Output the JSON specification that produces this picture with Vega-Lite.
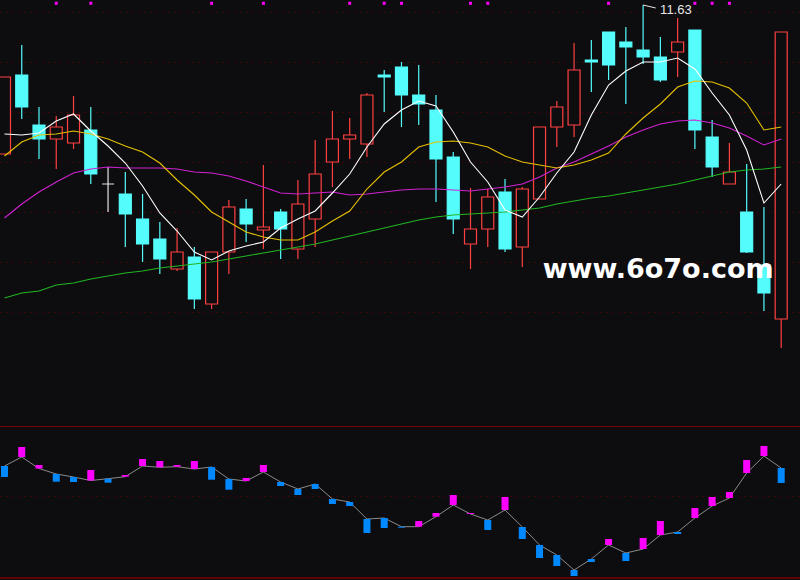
{
  "$schema": "https://vega.github.io/schema/vega-lite/v6.json",
  "background": "#0d0d10",
  "padding": 0,
  "spacing": 0,
  "config": {
    "view": {"stroke": null},
    "axis": {"labels": false, "ticks": false, "domain": false, "grid": false, "title": null, "minExtent": 0, "maxExtent": 0}
  },
  "datasets": {
    "k": [
      {"i":0,"open":10.14,"close":10.91,"high":10.91,"low":10.14,"ma5":10.34,"ma10":10.12,"ma20":9.50,"ma60":8.70,"ind":11.4,"ind2":10.3},
      {"i":1,"open":10.93,"close":10.61,"high":11.23,"low":10.49,"ma5":10.33,"ma10":10.26,"ma20":9.64,"ma60":8.75,"ind":12.3,"ind2":13.3},
      {"i":2,"open":10.43,"close":10.29,"high":10.61,"low":10.09,"ma5":10.35,"ma10":10.33,"ma20":9.76,"ma60":8.77,"ind":11.15,"ind2":11.5},
      {"i":3,"open":10.29,"close":10.41,"high":10.52,"low":9.99,"ma5":10.47,"ma10":10.34,"ma20":9.86,"ma60":8.83,"ind":10.6,"ind2":9.83},
      {"i":4,"open":10.25,"close":10.53,"high":10.72,"low":10.19,"ma5":10.54,"ma10":10.37,"ma20":9.95,"ma60":8.85,"ind":10.3,"ind2":9.8},
      {"i":5,"open":10.38,"close":9.94,"high":10.61,"low":9.84,"ma5":10.37,"ma10":10.34,"ma20":9.99,"ma60":8.89,"ind":9.95,"ind2":11.0},
      {"i":6,"open":9.84,"close":9.84,"high":10.01,"low":9.56,"ma5":10.22,"ma10":10.29,"ma20":10.01,"ma60":8.92,"ind":10.13,"ind2":9.73},
      {"i":7,"open":9.74,"close":9.54,"high":9.96,"low":9.21,"ma5":10.05,"ma10":10.22,"ma20":10.00,"ma60":8.95,"ind":10.33,"ind2":10.5},
      {"i":8,"open":9.49,"close":9.24,"high":9.74,"low":9.06,"ma5":9.82,"ma10":10.16,"ma20":10.00,"ma60":8.97,"ind":11.4,"ind2":12.1},
      {"i":9,"open":9.29,"close":9.09,"high":9.46,"low":8.94,"ma5":9.55,"ma10":10.05,"ma20":10.00,"ma60":9.00,"ind":11.27,"ind2":11.9},
      {"i":10,"open":8.99,"close":9.16,"high":9.40,"low":8.97,"ma5":9.37,"ma10":9.88,"ma20":9.99,"ma60":9.02,"ind":11.33,"ind2":11.5},
      {"i":11,"open":9.11,"close":8.69,"high":9.21,"low":8.59,"ma5":9.16,"ma10":9.73,"ma20":9.96,"ma60":9.04,"ind":11.1,"ind2":11.9},
      {"i":12,"open":8.64,"close":9.16,"high":9.16,"low":8.59,"ma5":9.08,"ma10":9.56,"ma20":9.95,"ma60":9.06,"ind":11.3,"ind2":10.03},
      {"i":13,"open":9.16,"close":9.61,"high":9.68,"low":8.94,"ma5":9.17,"ma10":9.46,"ma20":9.92,"ma60":9.09,"ind":10.1,"ind2":9.03},
      {"i":14,"open":9.59,"close":9.44,"high":9.69,"low":9.26,"ma5":9.22,"ma10":9.36,"ma20":9.87,"ma60":9.12,"ind":9.9,"ind2":10.2},
      {"i":15,"open":9.38,"close":9.41,"high":10.03,"low":9.19,"ma5":9.26,"ma10":9.31,"ma20":9.81,"ma60":9.15,"ind":10.8,"ind2":11.5},
      {"i":16,"open":9.56,"close":9.39,"high":9.59,"low":9.09,"ma5":9.40,"ma10":9.28,"ma20":9.75,"ma60":9.18,"ind":9.8,"ind2":9.4},
      {"i":17,"open":9.19,"close":9.64,"high":9.88,"low":9.09,"ma5":9.49,"ma10":9.28,"ma20":9.74,"ma60":9.21,"ind":9.1,"ind2":8.5},
      {"i":18,"open":9.49,"close":9.94,"high":10.28,"low":9.21,"ma5":9.57,"ma10":9.36,"ma20":9.75,"ma60":9.24,"ind":9.6,"ind2":9.1},
      {"i":19,"open":10.06,"close":10.29,"high":10.57,"low":9.81,"ma5":9.75,"ma10":9.47,"ma20":9.76,"ma60":9.28,"ind":8.1,"ind2":7.6},
      {"i":20,"open":10.29,"close":10.33,"high":10.50,"low":10.09,"ma5":9.94,"ma10":9.57,"ma20":9.73,"ma60":9.32,"ind":7.8,"ind2":7.4},
      {"i":21,"open":10.24,"close":10.73,"high":10.75,"low":10.11,"ma5":10.21,"ma10":9.79,"ma20":9.74,"ma60":9.36,"ind":6.1,"ind2":4.7},
      {"i":22,"open":10.93,"close":10.91,"high":10.98,"low":10.56,"ma5":10.44,"ma10":9.96,"ma20":9.76,"ma60":9.40,"ind":6.2,"ind2":5.2},
      {"i":23,"open":11.01,"close":10.73,"high":11.06,"low":10.41,"ma5":10.58,"ma10":10.06,"ma20":9.78,"ma60":9.44,"ind":5.33,"ind2":5.23},
      {"i":24,"open":10.73,"close":10.64,"high":11.03,"low":10.43,"ma5":10.67,"ma10":10.21,"ma20":9.79,"ma60":9.48,"ind":5.33,"ind2":5.9},
      {"i":25,"open":10.58,"close":10.09,"high":10.73,"low":9.66,"ma5":10.62,"ma10":10.26,"ma20":9.79,"ma60":9.51,"ind":6.33,"ind2":6.7},
      {"i":26,"open":10.11,"close":9.49,"high":10.16,"low":9.34,"ma5":10.36,"ma10":10.27,"ma20":9.78,"ma60":9.53,"ind":7.5,"ind2":8.5},
      {"i":27,"open":9.24,"close":9.39,"high":9.80,"low":8.99,"ma5":10.06,"ma10":10.25,"ma20":9.77,"ma60":9.54,"ind":6.6,"ind2":6.7},
      {"i":28,"open":9.39,"close":9.71,"high":9.79,"low":9.21,"ma5":9.86,"ma10":10.21,"ma20":9.79,"ma60":9.55,"ind":6.0,"ind2":5.0},
      {"i":29,"open":9.76,"close":9.19,"high":9.89,"low":9.16,"ma5":9.58,"ma10":10.12,"ma20":9.81,"ma60":9.56,"ind":7.0,"ind2":8.3},
      {"i":30,"open":9.21,"close":9.79,"high":9.81,"low":9.01,"ma5":9.51,"ma10":10.06,"ma20":9.84,"ma60":9.58,"ind":5.3,"ind2":4.1},
      {"i":31,"open":9.69,"close":10.41,"high":10.41,"low":9.69,"ma5":9.71,"ma10":10.03,"ma20":9.91,"ma60":9.60,"ind":3.5,"ind2":2.2},
      {"i":32,"open":10.41,"close":10.61,"high":10.67,"low":10.21,"ma5":9.95,"ma10":10.00,"ma20":10.00,"ma60":9.64,"ind":2.5,"ind2":1.4},
      {"i":33,"open":10.43,"close":10.98,"high":11.25,"low":10.31,"ma5":10.16,"ma10":10.03,"ma20":10.06,"ma60":9.67,"ind":1.0,"ind2":0.4},
      {"i":34,"open":11.08,"close":11.06,"high":11.28,"low":10.76,"ma5":10.53,"ma10":10.08,"ma20":10.14,"ma60":9.70,"ind":2.1,"ind2":1.8},
      {"i":35,"open":11.36,"close":11.03,"high":11.36,"low":10.88,"ma5":10.83,"ma10":10.15,"ma20":10.22,"ma60":9.72,"ind":3.5,"ind2":4.1},
      {"i":36,"open":11.26,"close":11.21,"high":11.41,"low":10.64,"ma5":10.97,"ma10":10.34,"ma20":10.31,"ma60":9.75,"ind":2.7,"ind2":1.9},
      {"i":37,"open":11.18,"close":11.11,"high":11.63,"low":11.04,"ma5":11.06,"ma10":10.50,"ma20":10.38,"ma60":9.78,"ind":3.1,"ind2":4.2},
      {"i":38,"open":11.11,"close":10.88,"high":11.31,"low":10.86,"ma5":11.06,"ma10":10.64,"ma20":10.44,"ma60":9.81,"ind":4.5,"ind2":5.9},
      {"i":39,"open":11.16,"close":11.26,"high":11.50,"low":10.91,"ma5":11.10,"ma10":10.81,"ma20":10.47,"ma60":9.84,"ind":4.8,"ind2":4.6},
      {"i":40,"open":11.38,"close":10.38,"high":11.38,"low":10.19,"ma5":10.99,"ma10":10.87,"ma20":10.48,"ma60":9.88,"ind":6.2,"ind2":7.2},
      {"i":41,"open":10.31,"close":10.01,"high":10.48,"low":9.91,"ma5":10.75,"ma10":10.86,"ma20":10.45,"ma60":9.92,"ind":7.4,"ind2":8.3},
      {"i":42,"open":9.84,"close":9.96,"high":10.25,"low":9.84,"ma5":10.53,"ma10":10.80,"ma20":10.40,"ma60":9.96,"ind":8.2,"ind2":8.8},
      {"i":43,"open":9.56,"close":9.16,"high":10.04,"low":9.15,"ma5":10.18,"ma10":10.65,"ma20":10.32,"ma60":9.98,"ind":10.7,"ind2":12.0},
      {"i":44,"open":9.03,"close":8.75,"high":9.61,"low":8.57,"ma5":9.65,"ma10":10.38,"ma20":10.23,"ma60":9.99,"ind":12.4,"ind2":13.4},
      {"i":45,"open":8.49,"close":11.36,"high":11.36,"low":8.20,"ma5":9.84,"ma10":10.41,"ma20":10.29,"ma60":10.01,"ind":11.2,"ind2":9.7}
    ],
    "sig": [{"i":3},{"i":5},{"i":12},{"i":15},{"i":20},{"i":22},{"i":23},{"i":27},{"i":28},{"i":35},{"i":40},{"i":41},{"i":42}],
    "mark": [{"i":37.87,"p":8.98,"label":"www.6o7o.com"}]
  },
  "vconcat": [
    {
      "width": 800,
      "height": 426,
      "data": {"name": "k"},
      "encoding": {
        "x": {"field": "i", "type": "quantitative", "scale": {"domain": [0.03, 45.8], "nice": false, "zero": false}, "axis": null}
      },
      "layer": [
        {
          "mark": {"type": "rule", "strokeWidth": 1.2, "clip": true},
          "encoding": {
            "y": {"field": "high", "type": "quantitative", "scale": {"domain": [7.42, 11.68], "nice": false, "zero": false},
                  "axis": {"grid": true, "values": [8.56, 9.06, 9.56, 10.06, 10.56, 11.06, 11.56], "gridColor": "#6a0000", "gridDash": [1, 5], "gridWidth": 1}},
            "y2": {"field": "low"},
            "color": {"condition": [{"test": "datum.close > datum.open", "value": "#ff4040"}, {"test": "datum.close < datum.open", "value": "#54fcfc"}], "value": "#e6e6e6"}
          }
        },
        {
          "mark": {"type": "bar", "width": 12, "strokeWidth": 1.2, "clip": true},
          "encoding": {
            "y": {"field": "open", "type": "quantitative", "scale": {"domain": [7.42, 11.68], "nice": false, "zero": false}},
            "y2": {"field": "close"},
            "fill": {"condition": {"test": "datum.close < datum.open", "value": "#54fcfc"}, "value": "#0d0d10"},
            "stroke": {"condition": [{"test": "datum.close > datum.open", "value": "#ff4040"}, {"test": "datum.close < datum.open", "value": "#54fcfc"}], "value": "#e6e6e6"}
          }
        },
        {
          "mark": {"type": "line", "strokeWidth": 1.1, "color": "#22b422", "clip": true},
          "encoding": {"y": {"field": "ma60", "type": "quantitative", "scale": {"domain": [7.42, 11.68], "nice": false, "zero": false}}}
        },
        {
          "mark": {"type": "line", "strokeWidth": 1.1, "color": "#d022d0", "clip": true},
          "encoding": {"y": {"field": "ma20", "type": "quantitative", "scale": {"domain": [7.42, 11.68], "nice": false, "zero": false}}}
        },
        {
          "mark": {"type": "line", "strokeWidth": 1.1, "color": "#e6c000", "clip": true},
          "encoding": {"y": {"field": "ma10", "type": "quantitative", "scale": {"domain": [7.42, 11.68], "nice": false, "zero": false}}}
        },
        {
          "mark": {"type": "line", "strokeWidth": 1.1, "color": "#ffffff", "clip": true},
          "encoding": {"y": {"field": "ma5", "type": "quantitative", "scale": {"domain": [7.42, 11.68], "nice": false, "zero": false}}}
        },
        {
          "data": {"name": "sig"},
          "mark": {"type": "point", "shape": "square", "size": 9, "filled": true, "opacity": 1, "color": "#ff00ff", "clip": true},
          "encoding": {"y": {"datum": 11.647, "type": "quantitative", "scale": {"domain": [7.42, 11.68], "nice": false, "zero": false}}}
        },
        {
          "transform": [{"filter": "datum.i == 37"}],
          "mark": {"type": "rule", "color": "#e6e6e6", "strokeWidth": 1, "clip": true},
          "encoding": {
            "y": {"field": "high", "type": "quantitative", "scale": {"domain": [7.42, 11.68], "nice": false, "zero": false}},
            "x2": {"datum": 37.73},
            "y2": {"datum": 11.60}
          }
        },
        {
          "transform": [{"filter": "datum.i == 37"}],
          "mark": {"type": "text", "align": "left", "baseline": "middle", "dx": 17, "dy": 5, "font": "Liberation Sans", "fontSize": 13, "color": "#e6e6e6", "clip": true},
          "encoding": {
            "y": {"field": "high", "type": "quantitative", "scale": {"domain": [7.42, 11.68], "nice": false, "zero": false}},
            "text": {"field": "high", "type": "quantitative", "format": ".2f"}
          }
        },
        {
          "data": {"name": "mark"},
          "mark": {"type": "text", "align": "center", "baseline": "middle", "font": "DejaVu Sans", "fontWeight": "bold", "fontSize": 27, "color": "#ffffff"},
          "encoding": {
            "y": {"field": "p", "type": "quantitative", "scale": {"domain": [7.42, 11.68], "nice": false, "zero": false}},
            "text": {"field": "label", "type": "nominal"}
          }
        }
      ]
    },
    {
      "width": 800,
      "height": 154,
      "data": {"name": "k"},
      "encoding": {
        "x": {"field": "i", "type": "quantitative", "scale": {"domain": [0.03, 45.8], "nice": false, "zero": false}, "axis": null}
      },
      "layer": [
        {
          "mark": {"type": "line", "strokeWidth": 1, "color": "#8a8a8a", "clip": true},
          "encoding": {
            "y": {"field": "ind", "type": "quantitative", "scale": {"domain": [0, 15.4], "nice": false, "zero": false},
                  "axis": {"grid": true, "values": [8.37], "gridColor": "#6a0000", "gridDash": [1, 5], "gridWidth": 1}}
          }
        },
        {
          "mark": {"type": "bar", "width": 7, "clip": true},
          "encoding": {
            "y": {"field": "ind", "type": "quantitative", "scale": {"domain": [0, 15.4], "nice": false, "zero": false}},
            "y2": {"field": "ind2"},
            "color": {"condition": {"test": "datum.ind2 > datum.ind", "value": "#ff00ff"}, "value": "#0088ff"}
          }
        },
        {
          "data": {"values": [{"level": 15.37}, {"level": 0.2}]},
          "mark": {"type": "rule", "color": "#780000", "strokeWidth": 1.5, "clip": true},
          "encoding": {
            "x": null,
            "y": {"field": "level", "type": "quantitative", "scale": {"domain": [0, 15.4], "nice": false, "zero": false}}
          }
        }
      ]
    }
  ]
}
